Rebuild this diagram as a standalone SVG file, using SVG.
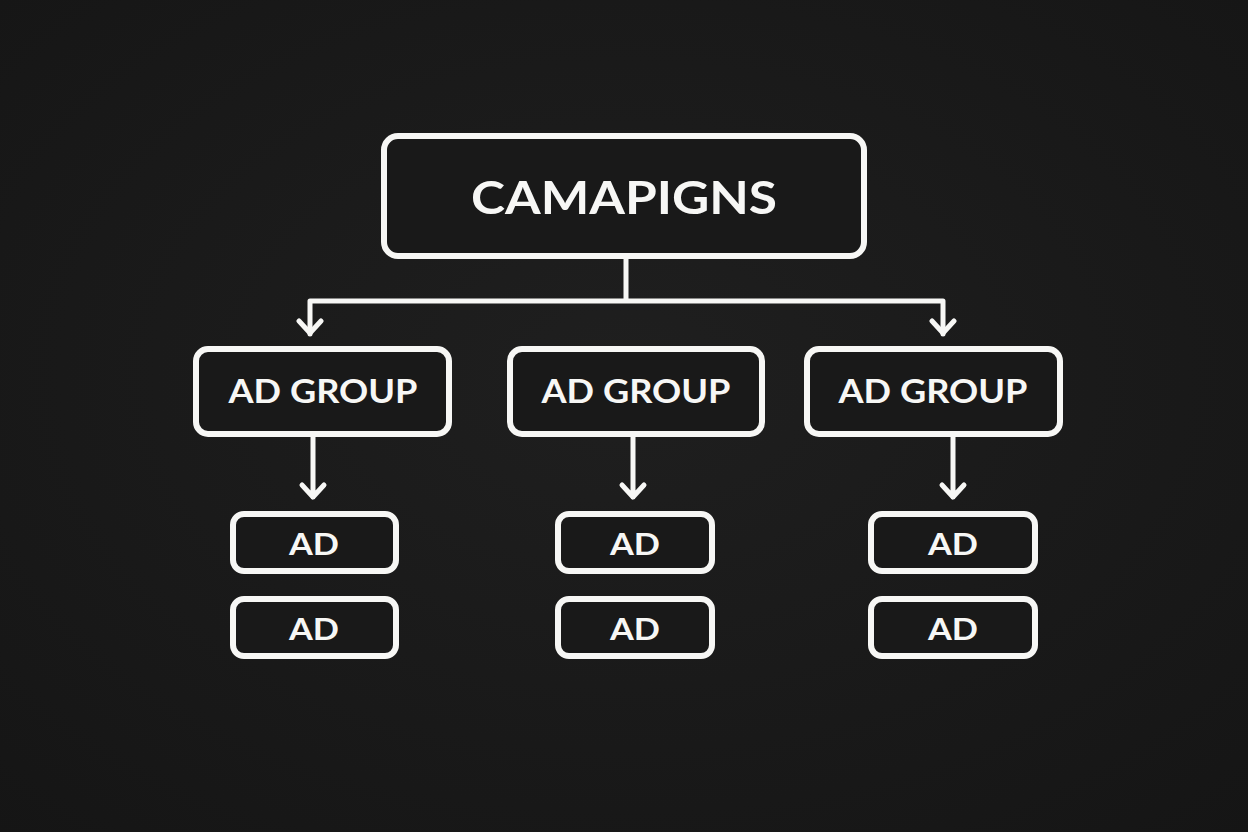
<svg xmlns="http://www.w3.org/2000/svg" width="1248" height="832" viewBox="0 0 1248 832">
<defs>
<radialGradient id="bg" cx="50%" cy="45%" r="75%">
<stop offset="0" stop-color="#1f1f1f"/>
<stop offset="1" stop-color="#151515"/>
</radialGradient>
<style>
.box{fill:#191919;stroke:#f7f7f5;stroke-width:6}
.lbl{fill:#f7f7f5;font-family:Lato,"Noto Sans","Liberation Sans",sans-serif;font-weight:700;text-anchor:middle}
.con{fill:none;stroke:#f7f7f5;stroke-width:5;stroke-linecap:round;stroke-linejoin:round}
</style>
</defs>
<rect width="1248" height="832" fill="url(#bg)"/>
<g id="connectors">
<path class="con" d="M626 258 V301 M310 301 H943 M310 301 V334 M943 301 V334"/>
<path class="con" d="M299 321 L310 333 L321 321 M932 321 L943 333 L954 321"/>
<path class="con" d="M313 436 V497 M302 485 L313 497 L324 485"/>
<path class="con" d="M633 436 V497 M622 485 L633 497 L644 485"/>
<path class="con" d="M953 436 V497 M942 485 L953 497 L964 485"/>
</g>
<g id="campaigns"><rect class="box" x="384" y="136" width="480" height="120" rx="14"/><text class="lbl" x="624" y="214" font-size="46" textLength="306" lengthAdjust="spacingAndGlyphs">CAMAPIGNS</text></g>
<g id="adgroup1"><rect class="box" x="196" y="349" width="253" height="85" rx="12"/><text class="lbl" x="323" y="403" font-size="32" textLength="189" lengthAdjust="spacingAndGlyphs">AD GROUP</text></g>
<g id="adgroup2"><rect class="box" x="510" y="349" width="252" height="85" rx="12"/><text class="lbl" x="636" y="403" font-size="32" textLength="189" lengthAdjust="spacingAndGlyphs">AD GROUP</text></g>
<g id="adgroup3"><rect class="box" x="807" y="349" width="253" height="85" rx="12"/><text class="lbl" x="933" y="403" font-size="32" textLength="189" lengthAdjust="spacingAndGlyphs">AD GROUP</text></g>
<g id="ad1a"><rect class="box" x="233" y="514" width="163" height="57" rx="11"/><text class="lbl" x="314" y="555" font-size="30" textLength="50" lengthAdjust="spacingAndGlyphs">AD</text></g>
<g id="ad1b"><rect class="box" x="233" y="599" width="163" height="57" rx="11"/><text class="lbl" x="314" y="640" font-size="30" textLength="50" lengthAdjust="spacingAndGlyphs">AD</text></g>
<g id="ad2a"><rect class="box" x="558" y="514" width="154" height="57" rx="11"/><text class="lbl" x="635" y="555" font-size="30" textLength="50" lengthAdjust="spacingAndGlyphs">AD</text></g>
<g id="ad2b"><rect class="box" x="558" y="599" width="154" height="57" rx="11"/><text class="lbl" x="635" y="640" font-size="30" textLength="50" lengthAdjust="spacingAndGlyphs">AD</text></g>
<g id="ad3a"><rect class="box" x="871" y="514" width="164" height="57" rx="11"/><text class="lbl" x="953" y="555" font-size="30" textLength="50" lengthAdjust="spacingAndGlyphs">AD</text></g>
<g id="ad3b"><rect class="box" x="871" y="599" width="164" height="57" rx="11"/><text class="lbl" x="953" y="640" font-size="30" textLength="50" lengthAdjust="spacingAndGlyphs">AD</text></g>
</svg>
